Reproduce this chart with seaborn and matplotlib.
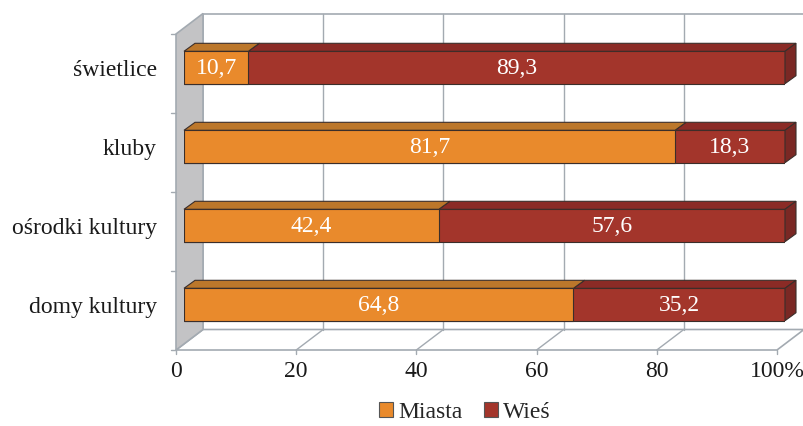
import matplotlib
matplotlib.use("Agg")
import matplotlib.pyplot as plt
import numpy as np
import pandas as pd
import seaborn as sns
from matplotlib.patches import Patch, Polygon


OUTPUT_PATH = "out.png"

CATEGORIES = ["świetlice", "kluby", "ośrodki kultury", "domy kultury"]
MIASTA = [10.7, 81.7, 42.4, 64.8]
WIES = [89.3, 18.3, 57.6, 35.2]
X_TICKS = [0, 20, 40, 60, 80, 100]
X_TICK_LABELS = ["0", "20", "40", "60", "80", "100%"]
SERIES = ["Miasta", "Wieś"]

ORANGE = "#E98A2C"
ORANGE_TOP = "#BC772B"
RED = "#A3352B"
RED_TOP = "#8B2B26"
RED_SIDE = "#7A2824"
EDGE = "#3B2E2A"
GRID = "#A3AAB1"
WALL = "#C3C3C5"
TEXT = "#1a1a1a"
FS = 17

# depth offsets in pixels (right, up), relative to the bar front plane
FRONT = (-8, -6)
BACK = (19, 14.5)
BAR_DEPTH = (11, 8)


def main() -> None:
    df = pd.DataFrame({"cat": CATEGORIES, "miasta": MIASTA, "wies": WIES})
    df["total"] = df["miasta"] + df["wies"]

    sns.set_theme(style="white")
    plt.rcParams["font.family"] = ["Liberation Serif", "DejaVu Serif"]

    fig = plt.figure(figsize=(8.04, 4.27), dpi=100)
    ax = fig.add_axes([184 / 804, (427 - 345) / 427, 601 / 804, 316 / 427])
    ax.patch.set_alpha(0)

    sns.barplot(data=df, x="total", y="cat", color=RED, width=0.41,
                edgecolor=EDGE, linewidth=0.8, saturation=1, ax=ax, zorder=3)
    sns.barplot(data=df, x="miasta", y="cat", color=ORANGE, width=0.41,
                edgecolor=EDGE, linewidth=0.8, saturation=1, ax=ax, zorder=4)
    ax.set_xlim(0, 100)
    ax.set_ylim(3.5, -0.5)
    ax.set_axis_off()

    # pixel -> data scale
    o = ax.transData.transform((0, 0))
    sx = ax.transData.transform((1, 0))[0] - o[0]
    sy = ax.transData.transform((0, 1))[1] - o[1]

    def shift(pt, off):
        return (pt[0] + off[0] / sx, pt[1] + off[1] / sy)

    def poly(pts, **kw):
        ax.add_patch(Polygon(pts, closed=True, clip_on=False, **kw))

    y0, y1 = -0.5, 3.5
    # back wall
    poly([shift((0, y0), BACK), shift((100, y0), BACK),
          shift((100, y1), BACK), shift((0, y1), BACK)],
         facecolor="white", edgecolor=GRID, lw=1.2, zorder=0)
    # floor
    poly([shift((0, y1), FRONT), shift((100, y1), FRONT),
          shift((100, y1), BACK), shift((0, y1), BACK)],
         facecolor="white", edgecolor=GRID, lw=1.2, zorder=0.5)
    # left wall
    poly([shift((0, y0), FRONT), shift((0, y1), FRONT),
          shift((0, y1), BACK), shift((0, y0), BACK)],
         facecolor=WALL, edgecolor=GRID, lw=1.2, zorder=1)

    for v in X_TICKS[1:-1]:
        a, b = shift((v, y0), BACK), shift((v, y1), BACK)
        ax.plot([a[0], b[0]], [a[1], b[1]], color=GRID, lw=1, zorder=0.6, clip_on=False)
        a, b = shift((v, y1), FRONT), shift((v, y1), BACK)
        ax.plot([a[0], b[0]], [a[1], b[1]], color=GRID, lw=1, zorder=0.6, clip_on=False)

    for v, lab in zip(X_TICKS, X_TICK_LABELS):
        a, b = shift((v, y1), FRONT), shift((v, y1), (FRONT[0], FRONT[1] - 4))
        ax.plot([a[0], b[0]], [a[1], b[1]], color=GRID, lw=1, zorder=1, clip_on=False)
        ax.annotate(lab, (v, y1), xycoords="data", textcoords="offset pixels",
                    xytext=(FRONT[0], FRONT[1] - 21), ha="center", va="center",
                    fontsize=FS, color=TEXT, annotation_clip=False)

    for b in np.arange(len(CATEGORIES) + 1) - 0.5:
        p, q = shift((0, b), FRONT), shift((0, b), (FRONT[0] - 5, FRONT[1]))
        ax.plot([p[0], q[0]], [p[1], q[1]], color=GRID, lw=1, zorder=1, clip_on=False)

    # 3D faces of the bars
    red_bars = ax.containers[0]
    orange_bars = ax.containers[1]
    for rb, ob in zip(red_bars, orange_bars):
        top = ob.get_y()
        bot = top + ob.get_height()
        xm = ob.get_width()
        xe = rb.get_width()
        poly([(xm, top), (xe, top), shift((xe, top), BAR_DEPTH), shift((xm, top), BAR_DEPTH)],
             facecolor=RED_TOP, edgecolor=EDGE, lw=0.8, zorder=3)
        poly([(0, top), (xm, top), shift((xm, top), BAR_DEPTH), shift((0, top), BAR_DEPTH)],
             facecolor=ORANGE_TOP, edgecolor=EDGE, lw=0.8, zorder=3)
        poly([(xe, top), (xe, bot), shift((xe, bot), BAR_DEPTH), shift((xe, top), BAR_DEPTH)],
             facecolor=RED_SIDE, edgecolor=EDGE, lw=0.8, zorder=3)

    # value labels
    for i, row in df.iterrows():
        ax.text(row["miasta"] / 2, i, f"{row['miasta']:.1f}".replace(".", ","),
                ha="center", va="center", color="white", fontsize=FS, zorder=6)
        ax.text(row["miasta"] + row["wies"] / 2, i, f"{row['wies']:.1f}".replace(".", ","),
                ha="center", va="center", color="white", fontsize=FS, zorder=6)

    # category labels
    for i, cat in enumerate(CATEGORIES):
        ax.annotate(cat, (0, i), xycoords="data", textcoords="offset pixels",
                    xytext=(-27, -2), ha="right", va="center",
                    fontsize=FS, color=TEXT, annotation_clip=False)

    handles = [Patch(facecolor=ORANGE, edgecolor="#555555", lw=0.8),
               Patch(facecolor=RED, edgecolor="#555555", lw=0.8)]
    fig.legend(handles, SERIES, loc="center", bbox_to_anchor=(0.578, 0.033),
               ncol=2, frameon=False, fontsize=FS, handlelength=0.6,
               handleheight=0.6, handletextpad=0.2, columnspacing=0.9)

    fig.savefig(OUTPUT_PATH, dpi=100)


if __name__ == "__main__":
    main()
